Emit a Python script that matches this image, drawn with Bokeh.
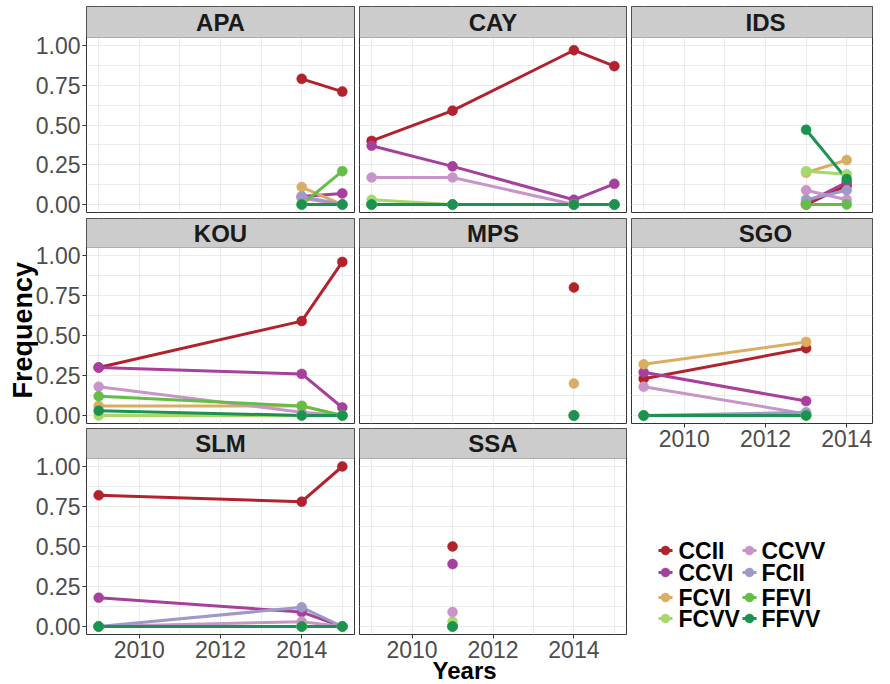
from bokeh.plotting import figure
from bokeh.layouts import column, row
from bokeh.models import (Range1d, FixedTicker, Label, Title,
                          ColumnDataSource, NumeralTickFormatter, BoxAnnotation)
from bokeh.core.properties import value
from bokeh.embed import file_html
from bokeh.resources import INLINE

NAN = float("nan")

# ---------------- data ----------------
SERIES = ["CCII", "CCVI", "FCVI", "FCVV", "CCVV", "FCII", "FFVI", "FFVV"]
COLORS = ["#B2222D", "#A6409C", "#D9AE62", "#A6D96A", "#C994C7", "#9E9AC8", "#63BE46", "#1B9350"]

Y_TICKS = [0, 0.25, 0.5, 0.75, 1]
Y_TICK_LABELS = ["0.00", "0.25", "0.50", "0.75", "1.00"]
Y_MINOR = [0.125, 0.375, 0.625, 0.875]
X_TICKS = [2010, 2012, 2014]
X_TICK_LABELS = ["2010", "2012", "2014"]
X_MINOR = [2009, 2011, 2013, 2015]

APA_YEARS = [2014, 2015]
APA = {"CCII": [0.79, 0.71], "CCVI": [0.05, 0.07], "FCVI": [0.11, 0.00], "FCVV": [0.00, 0.00],
       "CCVV": [0.04, 0.00], "FCII": [0.05, 0.00], "FFVI": [0.00, 0.21], "FFVV": [0.00, 0.00]}

CAY_YEARS = [2009, 2011, 2014, 2015]
CAY = {"CCII": [0.40, 0.59, 0.97, 0.87], "CCVI": [0.37, 0.24, 0.03, 0.13],
       "FCVI": [0.00, 0.00, 0.00, 0.00], "FCVV": [0.03, 0.00, 0.00, 0.00],
       "CCVV": [0.17, 0.17, 0.00, 0.00], "FCII": [0.00, 0.00, 0.00, 0.00],
       "FFVI": [0.00, 0.00, 0.00, 0.00], "FFVV": [0.00, 0.00, 0.00, 0.00]}

IDS_YEARS = [2013, 2014]
IDS = {"CCII": [0.00, 0.12], "CCVI": [0.01, 0.14], "FCVI": [0.20, 0.28], "FCVV": [0.21, 0.19],
       "CCVV": [0.09, 0.03], "FCII": [0.03, 0.09], "FFVI": [0.00, 0.00], "FFVV": [0.47, 0.16]}

KOU_YEARS = [2009, 2014, 2015]
KOU = {"CCII": [0.30, 0.59, 0.96], "CCVI": [0.30, 0.26, 0.05], "FCVI": [0.06, 0.06, 0.00],
       "FCVV": [0.00, 0.00, 0.00], "CCVV": [0.18, 0.02, 0.00], "FCII": [NAN, NAN, NAN],
       "FFVI": [0.12, 0.06, 0.00], "FFVV": [0.03, 0.00, 0.00]}

MPS_YEARS = [2014]
MPS = {"CCII": [0.80], "CCVI": [0.00], "FCVI": [0.20], "FCVV": [0.00],
       "CCVV": [0.00], "FCII": [0.00], "FFVI": [0.00], "FFVV": [0.00]}

SGO_YEARS = [2009, 2013]
SGO = {"CCII": [0.23, 0.42], "CCVI": [0.27, 0.09], "FCVI": [0.32, 0.46], "FCVV": [0.00, 0.00],
       "CCVV": [0.18, 0.01], "FCII": [0.00, 0.02], "FFVI": [0.00, 0.00], "FFVV": [0.00, 0.00]}

SLM_YEARS = [2009, 2014, 2015]
SLM = {"CCII": [0.82, 0.78, 1.00], "CCVI": [0.18, 0.09, 0.00], "FCVI": [0.00, 0.00, 0.00],
       "FCVV": [0.00, 0.00, 0.00], "CCVV": [0.00, 0.03, 0.00], "FCII": [0.00, 0.12, 0.00],
       "FFVI": [0.00, 0.00, 0.00], "FFVV": [0.00, 0.00, 0.00]}

SSA_YEARS = [2011]
SSA = {"CCII": [0.50], "CCVI": [0.39], "FCVI": [0.00], "FCVV": [0.03],
       "CCVV": [0.09], "FCII": [0.00], "FFVI": [0.00], "FFVV": [0.00]}

COLS = [
    [("APA", APA_YEARS, APA), ("KOU", KOU_YEARS, KOU), ("SLM", SLM_YEARS, SLM)],
    [("CAY", CAY_YEARS, CAY), ("MPS", MPS_YEARS, MPS), ("SSA", SSA_YEARS, SSA)],
    [("IDS", IDS_YEARS, IDS), ("SGO", SGO_YEARS, SGO)],
]

# ---------------- layout / style ----------------
FONT = "Liberation Sans"
FRAME_W = [268, 267, 241]
LEFT = [86, 0, 0]
RIGHT = [5, 5, 2]
X_START, X_FULL_END = 2008.7, 2015.3
X_END = [2015.3, 2015.3, 2008.7 + 241 / (268 / 6.6)]
STRIP_H = [31, 29, 30]
PANEL_H = [175, 176, 176]
TOP = [6, 0, 0]
GAP = [6, 5, 0]
Y_START, Y_END = -0.05, 1.05

# legend layout (pixel positions within the page)
LEG_X = (631, 872)
LEG_Y = (684, 463)
LEG_ROW_Y = [550, 572, 597, 618]
LEG_KEY_X = [665, 749]
LEG_TEXT_X = [678, 761]


def style_axis(ax, ticks, labels):
    ax.ticker = FixedTicker(ticks=ticks)
    ax.major_label_overrides = dict(zip(ticks, labels))
    ax.major_label_text_font = FONT
    ax.major_label_text_font_size = "23px"
    ax.major_label_text_color = "#4D4D4D"
    ax.major_tick_line_color = "#333333"
    ax.major_tick_out = 4
    ax.major_tick_in = 0
    ax.minor_tick_line_color = None
    ax.axis_line_color = None
    ax.major_label_standoff = 2


def make_panel(name, years, vals, ci, ri, last):
    if last:
        mb = {0: 45, 1: 50, 2: 40}[ci]
    else:
        mb = GAP[ri]
    ppu = PANEL_H[ri] / (Y_END - Y_START)
    y_top = Y_END + STRIP_H[ri] / ppu
    x_end = X_END[ci]
    p = figure(frame_width=FRAME_W[ci], frame_height=PANEL_H[ri] + STRIP_H[ri],
               x_range=Range1d(X_START, x_end), y_range=Range1d(Y_START, y_top),
               x_axis_location="below" if last else None,
               y_axis_location="left" if ci == 0 else None,
               toolbar_location=None, output_backend="svg",
               min_border_left=LEFT[ci], min_border_right=RIGHT[ci],
               min_border_top=TOP[ri], min_border_bottom=mb)
    p.background_fill_color = "white"
    p.border_fill_color = "white"
    p.outline_line_color = "#333333"
    p.outline_line_width = 1
    p.xgrid.ticker = FixedTicker(ticks=X_TICKS, minor_ticks=X_MINOR)
    p.ygrid.ticker = FixedTicker(ticks=Y_TICKS, minor_ticks=Y_MINOR)
    p.grid.grid_line_color = "#EBEBEB"
    p.grid.grid_line_width = 1
    p.grid.minor_grid_line_color = "#EBEBEB"
    p.grid.minor_grid_line_width = 1
    if ci == 0:
        style_axis(p.yaxis[0], Y_TICKS, Y_TICK_LABELS)
        p.yaxis[0].formatter = NumeralTickFormatter(format="0.00")
    if last:
        style_axis(p.xaxis[0], X_TICKS, X_TICK_LABELS)

    # strip (facet header)
    p.add_layout(BoxAnnotation(bottom=Y_END, fill_color="#CCCCCC", fill_alpha=1.0,
                               line_color="#333333", line_width=1, level="overlay"))
    p.add_layout(Label(x=(X_START + X_FULL_END) / 2, y=(Y_END + y_top) / 2, text=name,
                       text_align="center", text_baseline="middle",
                       text_font=FONT, text_font_style="bold", text_font_size="24px",
                       text_color="#1A1A1A", level="overlay"))

    srcs = {s: ColumnDataSource(dict(x=years, y=vals[s])) for s in SERIES}
    for s, c in zip(SERIES, COLORS):
        if len(years) > 1:
            p.line("x", "y", source=srcs[s], line_color=c, line_width=3)
    for s, c in zip(SERIES, COLORS):
        p.scatter("x", "y", source=srcs[s], size=10, fill_color=c, line_color=c, line_width=0.5)

    if name == "KOU":
        p.add_layout(Title(text="Frequency", align="left", offset=25, standoff=-10,
                           vertical_align="bottom",
                           text_font=FONT, text_font_style="bold", text_font_size="27px",
                           text_color="black"), "left")
    if name == "SSA":
        p.add_layout(Title(text="Years", align="left", offset=73, standoff=-8,
                           vertical_align="top",
                           text_font=FONT, text_font_style="bold", text_font_size="24px",
                           text_color="black"), "below")
    return p


def make_legend_fig():
    lf = figure(frame_width=FRAME_W[2], frame_height=LEG_Y[0] - LEG_Y[1],
                x_range=Range1d(*LEG_X), y_range=Range1d(*LEG_Y),
                x_axis_location=None, y_axis_location=None,
                toolbar_location=None, output_backend="svg",
                min_border_left=0, min_border_right=RIGHT[2], min_border_top=0,
                min_border_bottom=0)
    lf.grid.visible = False
    lf.outline_line_color = None
    lf.background_fill_color = "white"
    lf.border_fill_color = "white"
    for i, (s, c) in enumerate(zip(SERIES, COLORS)):
        col, r = divmod(i, 4)
        y = LEG_ROW_Y[r]
        kx = LEG_KEY_X[col]
        lf.line([kx - 7, kx + 7], [y, y], line_color=c, line_width=3)
        lf.scatter([kx], [y], size=9, fill_color=c, line_color=c, line_width=0.5)
        lf.text([LEG_TEXT_X[col]], [y], text=[s], text_align="left", text_baseline="middle",
                text_font=value(FONT), text_font_style="bold", text_font_size="23px",
                text_color="black")
    return lf


columns = []
for ci, col in enumerate(COLS):
    figs = []
    for ri, (name, years, vals) in enumerate(col):
        last = ri == len(col) - 1
        figs.append(make_panel(name, years, vals, ci, ri, last))
    if ci == 2:
        figs.append(make_legend_fig())
    columns.append(column(*figs, spacing=0))

layout = row(*columns, spacing=0)

open("out.html", "w").write(file_html(layout, INLINE))
